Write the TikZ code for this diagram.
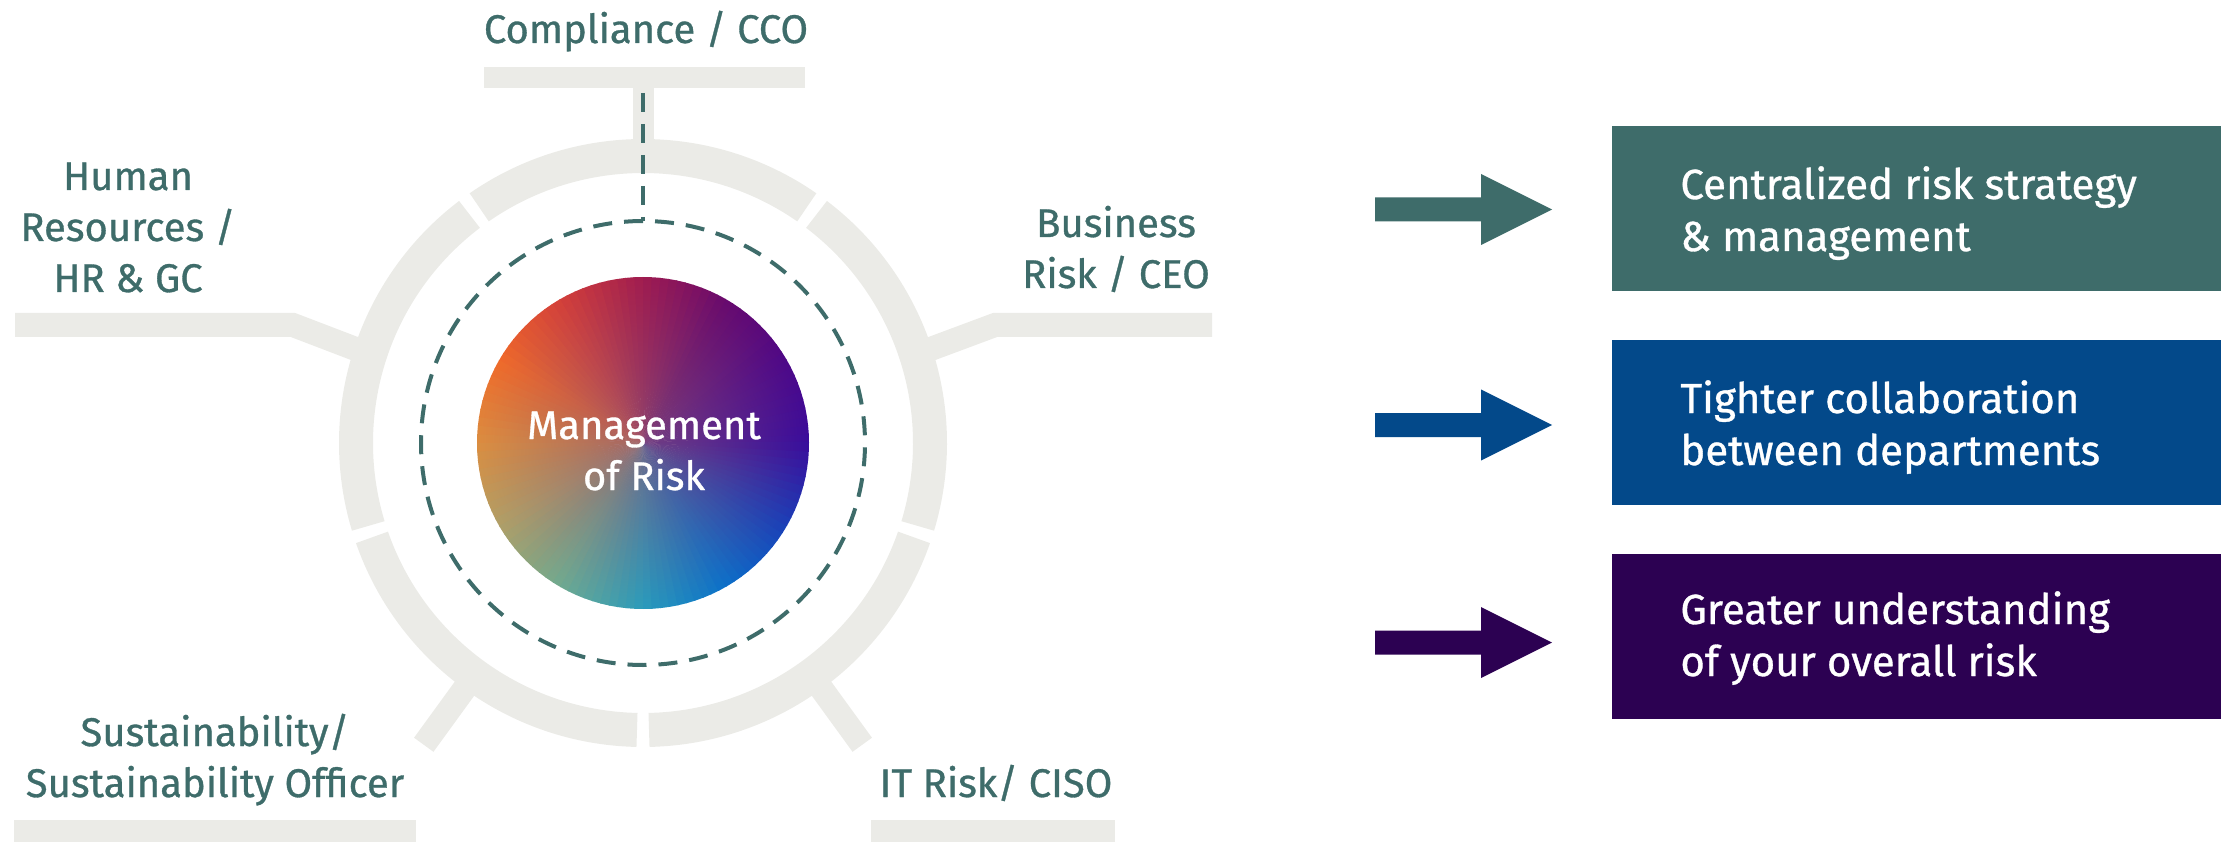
\documentclass[tikz,border=0pt]{standalone}
\usepackage{fontspec}
\setmainfont{Fira Sans}[FakeBold=0.8]
\usetikzlibrary{fadings,calc}
\definecolor{tealc}{HTML}{3E6C6A}
\definecolor{bluec}{HTML}{03498A}
\definecolor{purc}{HTML}{2C0152}
\definecolor{ringgray}{HTML}{EBEBE7}
\definecolor{midc}{HTML}{8A5578}
\definecolor{g0}{HTML}{3A0C9C}
\definecolor{g1}{HTML}{4E0888}
\definecolor{g2}{HTML}{680A6E}
\definecolor{g3}{HTML}{A01C50}
\definecolor{g4}{HTML}{D4403A}
\definecolor{g5}{HTML}{F06A2A}
\definecolor{g6}{HTML}{DC8E40}
\definecolor{g7}{HTML}{B0A068}
\definecolor{g8}{HTML}{70AA90}
\definecolor{g9}{HTML}{2A9CBC}
\definecolor{g10}{HTML}{0C70CA}
\definecolor{g11}{HTML}{1A40B8}
\tikzfading[name=softcenter, inner color=transparent!0, outer color=transparent!100]
\begin{document}
\begin{tikzpicture}[x=0.5pt,y=0.5pt,
 band/.style={draw=ringgray, line width=12pt},
 ringseg/.style={draw=ringgray, line width=17pt},
 dashline/.style={draw=tealc, line width=2pt, dash pattern=on 9.5pt off 6pt},
 lbl/.style={text=tealc, font=\fontsize{20}{25.5}\selectfont, align=center, inner sep=0pt},
 boxtxt/.style={text=white, font=\fontsize{21}{26}\selectfont, align=left, inner sep=0pt},
 panel/.style={inner sep=0pt, minimum width=304.5pt, minimum height=82.5pt, anchor=south west},
 fatarrow/.pic={\fill (0,-12) -- (106,-12) -- (106,-35.5) -- (177,0) -- (106,35.5) -- (106,12) -- (0,12) -- cycle;}
]
\useasboundingbox (0,0) rectangle (2227,842);
\coordinate (C) at (643,399);

% ring segments
\foreach \m in {90,162,234,306,378}{
  \pgfmathsetmacro\sa{\m-34.8}
  \draw[ringseg] (C) ++(\sa:287) arc[start angle=\sa, delta angle=69.6, radius=287];
}
% connectors to labels
\coordinate (topL) at (484,754);
\coordinate (topR) at (805,775);
\fill[ringgray] (topL) rectangle (topR);
\coordinate (stemA) at ($(C)+(0,355)$);
\coordinate (stemB) at ($(C)+(90:290)$);
\draw[band, line width=10.5pt] (stemA) -- (stemB);

\coordinate (rR) at ($(C)+(18:290)$);
\coordinate (kR) at (995,517);
\coordinate (eR) at (1212,517);
\draw[band] (rR) -- (kR) -- (eR);

\coordinate (rL) at ($(C)+(162:290)$);
\coordinate (kL) at (293,517);
\coordinate (eL) at (15,517);
\draw[band] (rL) -- (kL) -- (eL);

\coordinate (sA) at ($(C)+(234:290)$);
\coordinate (sB) at ($(C)+(234:373)$);
\draw[band] (sA) -- (sB);
\coordinate (iA) at ($(C)+(306:290)$);
\coordinate (iB) at ($(C)+(306:373)$);
\draw[band] (iA) -- (iB);

\fill[ringgray] (14,0) rectangle (416,22);
\fill[ringgray] (871,0) rectangle (1115,22);

% dashed circle and line
\coordinate (dTop) at ($(C)+(90:222)$);
\coordinate (dStart) at ($(C)+(0,350)$);
\draw[dashline] (dTop) arc[start angle=90, delta angle=360, radius=222];
\draw[dashline] (dStart) -- (dTop);

% gradient disc
\foreach \ca/\cb [count=\k from 0] in {g0/g1,g1/g2,g2/g3,g3/g4,g4/g5,g5/g6,g6/g7,g7/g8,g8/g9,g9/g10,g10/g11,g11/g0}{
  \foreach \j in {0,...,9}{
    \pgfmathtruncatemacro\p{\j*10+5}
    \pgfmathsetmacro\a{\k*30+\j*3}
    \fill[color=\cb!\p!\ca] (C) -- ++(\a:166) arc[start angle=\a, delta angle=3.5, radius=166] -- cycle;
  }
}
\fill[color=midc, opacity=0.7, path fading=softcenter] (C) circle[radius=166];

\node[lbl, text=white, anchor=base] (mr) at (644,352) {Management\\of Risk};

% labels
\node[lbl, anchor=base] (cco) at (646,799) {Compliance / CCO};
\node[lbl, anchor=base] (hr) at (128,550) {Human\\Resources /\\HR \& GC};
\node[lbl, anchor=base] (ceo) at (1116,554) {Business\\Risk / CEO};
\node[lbl, anchor=base] (sus) at (215,45) {Sustainability/\\Sustainability Officer};
\node[lbl, anchor=base] (it) at (996,45) {IT Risk/ CISO};

% arrows
\pic[fill=tealc] at (1375,632.5) {fatarrow};
\pic[fill=bluec] at (1375,417) {fatarrow};
\pic[fill=purc] at (1375,199.4) {fatarrow};

% boxes
\node[panel, fill=tealc] (b1) at (1612,550.5) {};
\node[panel, fill=bluec] (b2) at (1612,337) {};
\node[panel, fill=purc] (b3) at (1612,123) {};
\node[boxtxt, anchor=base west] (t1) at (1680,591) {Centralized risk strategy\\\& management};
\node[boxtxt, anchor=base west] (t2) at (1680,377) {Tighter collaboration\\between departments};
\node[boxtxt, anchor=base west] (t3) at (1680,166) {Greater understanding\\of your overall risk};
\end{tikzpicture}
\end{document}
